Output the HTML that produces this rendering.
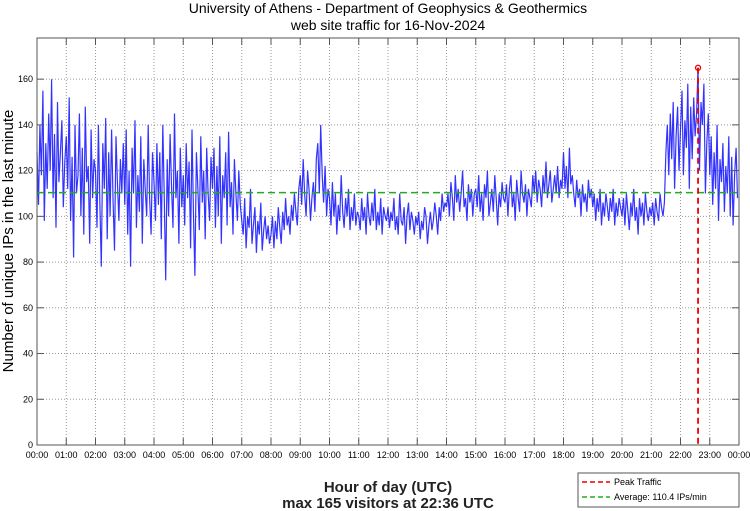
<!DOCTYPE html>
<html><head><meta charset="utf-8"><style>
body{margin:0;background:#fff;}
svg{display:block;font-family:"Liberation Sans",sans-serif;}
</style></head><body>
<svg id="chart" width="750" height="511">
<text x="388" y="13" font-size="14" text-anchor="middle">University of Athens - Department of Geophysics &amp; Geothermics</text>
<text x="388" y="30" font-size="14" text-anchor="middle">web site traffic for 16-Nov-2024</text>
<g id="grid"></g>
<g id="series"></g>
<rect x="37" y="38" width="702" height="407" fill="none" stroke="#555" stroke-width="1"/>
<g id="axes"></g>
<text transform="translate(13,241) rotate(-90)" font-size="15" text-anchor="middle">Number of unique IPs in the last minute</text>
<text x="388" y="492" font-size="15" text-anchor="middle" font-weight="bold" fill="#222">Hour of day (UTC)</text>
<text x="388" y="508" font-size="15" text-anchor="middle" font-weight="bold" fill="#222">max 165 visitors at 22:36 UTC</text>
<g>
<rect x="578" y="473" width="161" height="34" fill="#fff" stroke="#555"/>
<line x1="582" y1="482" x2="610" y2="482" stroke="#e00" stroke-width="1.5" stroke-dasharray="5,3"/>
<text x="614" y="485" font-size="9">Peak Traffic</text>
<line x1="582" y1="497" x2="610" y2="497" stroke="#2a2" stroke-width="1.5" stroke-dasharray="5,3"/>
<text x="614" y="500" font-size="9">Average: 110.4 IPs/min</text>
</g>
</svg>
<script>
const hourLabels=["00:00","01:00","02:00","03:00","04:00","05:00","06:00","07:00","08:00","09:00","10:00","11:00","12:00","13:00","14:00","15:00","16:00","17:00","18:00","19:00","20:00","21:00","22:00","23:00","00:00"];
const yTicks=[0,20,40,60,80,100,120,140,160];
const average=110.4;
const peakValue=165;
const peakMinute=22*60+36;
const stepMinutes=3;
const visitors=[
128,105,140,118,155,98,132,112,145,120,160,108,136,95,150,115,128,142,104,124,
135,112,152,98,126,82,140,110,118,145,100,130,92,148,115,122,88,138,108,125,
120,95,140,105,78,132,112,143,90,128,100,138,108,85,135,115,98,125,110,132,
105,138,92,120,78,130,110,142,95,118,102,135,88,125,112,100,140,108,92,128,
115,98,132,105,128,90,140,110,72,125,100,136,112,95,145,108,120,88,130,104,
118,96,132,108,124,86,138,100,74,128,112,94,135,106,120,90,130,110,98,126,
112,130,95,122,100,135,88,118,108,128,96,137,104,115,92,125,110,98,120,105,
98,92,108,86,100,95,112,88,96,104,84,98,92,106,85,94,100,90,96,88,
92,100,86,98,90,104,95,88,102,94,108,96,100,92,105,98,110,102,96,112,
118,105,125,110,100,120,112,98,108,115,102,125,132,110,140,118,106,122,100,112,
108,96,115,100,110,92,105,98,118,102,95,108,100,112,94,104,98,110,96,102,
100,94,108,98,104,92,110,100,96,106,98,112,94,102,96,108,92,104,100,98,
104,95,102,98,108,94,100,92,110,98,96,104,88,100,106,94,102,98,92,100,
96,102,90,98,94,104,100,88,96,102,94,98,106,100,92,104,98,110,102,106,
104,110,100,115,108,98,118,106,112,102,110,120,104,108,98,114,106,112,100,110,
112,104,118,102,110,98,114,108,120,100,106,112,102,118,108,96,110,104,115,108,
106,114,100,112,118,104,110,98,116,108,102,120,110,106,114,100,112,108,104,118,
110,120,106,116,112,104,118,110,124,108,114,120,106,112,118,110,122,108,116,112,
128,112,122,108,130,114,118,110,104,116,108,112,100,114,106,110,102,116,108,112,
104,110,98,108,102,112,96,106,100,110,104,98,108,102,112,96,106,100,108,104,
100,108,96,110,102,94,106,100,112,98,104,92,108,100,106,96,110,102,98,104,
100,106,96,108,102,98,110,104,100,106,128,140,118,145,125,150,112,135,148,120,
138,155,118,142,130,158,112,148,125,152,135,145,165,120,150,140,158,110,132,145,
118,135,105,128,112,140,98,125,115,132,102,122,110,135,100,126,96,118,130,108];

const NS="http://www.w3.org/2000/svg";
const L=37,R=739,T=38,B=445,YMAX=178;
const xs=m=>L+(R-L)*m/1440;
const ys=v=>B-(B-T)*v/YMAX;
function mk(tag,attrs,parent){const e=document.createElementNS(NS,tag);for(const k in attrs)e.setAttribute(k,attrs[k]);parent.appendChild(e);return e;}
const grid=document.getElementById('grid'),axes=document.getElementById('axes'),series=document.getElementById('series');
hourLabels.forEach((lab,i)=>{
  const x=xs(i*60);
  if(i>0&&i<24){
    const g=mk('line',{x1:x,y1:T,x2:x,y2:B,stroke:'#999','stroke-width':1,'stroke-dasharray':'1,2'},grid);
    
    
    const t1=mk('line',{x1:x,y1:B,x2:x,y2:B-7,stroke:'#555'},axes);
    
    
    const t2=mk('line',{x1:x,y1:T,x2:x,y2:T+7,stroke:'#555'},axes);
    
    
  }
  const t=mk('text',{x:x,y:B+13,'font-size':9,'text-anchor':'middle'},axes);
  t.textContent=lab;
  
  
});
yTicks.forEach(v=>{
  const y=ys(v);
  if(v>0){
    const g=mk('line',{x1:L,y1:y,x2:R,y2:y,stroke:'#999','stroke-width':1,'stroke-dasharray':'1,2'},grid);
    
    
  }
  const t1=mk('line',{x1:L,y1:y,x2:L+7,y2:y,stroke:'#555'},axes);
  
  
  const t2=mk('line',{x1:R,y1:y,x2:R-7,y2:y,stroke:'#555'},axes);
  
  
  const t=mk('text',{x:L-4,y:y+3,'font-size':9,'text-anchor':'end'},axes);
  t.textContent=v;
  
  
});
const pts=visitors.map((v,i)=>xs(i*stepMinutes).toFixed(1)+','+ys(v).toFixed(1)).join(' ');
const pl=mk('polyline',{points:pts,fill:'none',stroke:'#00f','stroke-width':1.2,'stroke-opacity':0.8},series);


const avg=mk('line',{x1:L,y1:ys(average),x2:R,y2:ys(average),stroke:'#2a2','stroke-width':1.5,'stroke-dasharray':'7,4'},series);


const pk=mk('line',{x1:xs(peakMinute),y1:ys(peakValue),x2:xs(peakMinute),y2:B,stroke:'#e00','stroke-width':1.8,'stroke-dasharray':'6,4'},series);


const pm=mk('circle',{cx:xs(peakMinute),cy:ys(peakValue),r:2.5,fill:'none',stroke:'#e00','stroke-width':1.3},series);


</script>
</body></html>
